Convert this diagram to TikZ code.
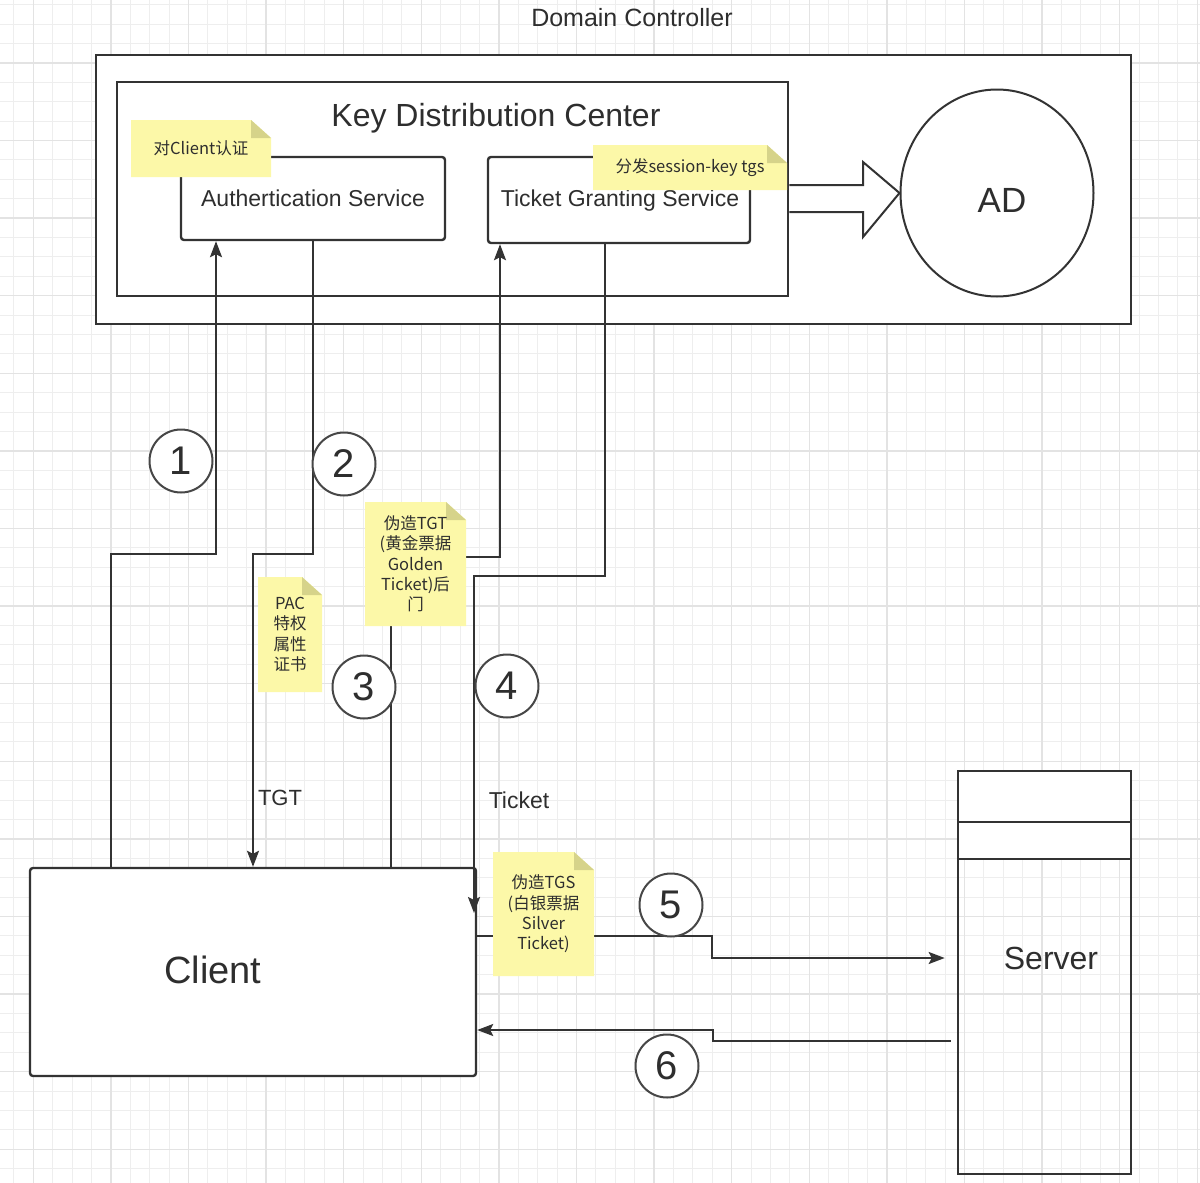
\documentclass[tikz,border=0pt]{standalone}
\usepackage{fontspec}
\setmainfont{Liberation Sans}
\newfontfamily\cjk{Noto Sans CJK SC}
\usetikzlibrary{arrows.meta,shapes.geometric,calc}
\definecolor{ln}{HTML}{333333}
\definecolor{txt}{HTML}{2E2E2E}
\definecolor{notey}{RGB}{252,248,168}
\definecolor{notef}{RGB}{214,211,138}
\definecolor{gmin}{HTML}{EEEEEE}
\definecolor{gmaj}{HTML}{E3E3E3}
\newcommand\fs[1]{\fontsize{#1}{#1}\selectfont}
% name, x1, y1, x2, y2, text
\newcommand\stickynote[6]{%
  \fill[notey] (#2,#3) -- ({#4-20},#3) -- (#4,{#3+18}) -- (#4,#5) -- (#2,#5) -- cycle;
  \fill[notef] ({#4-20},#3) -- ({#4-20},{#3+18}) -- (#4,{#3+18}) -- cycle;
  \node[notetext] (#1) at ({(#2+#4)/2},{(#3+#5)/2}) {#6};
}
\begin{document}
\begin{tikzpicture}[x=1pt,y=-1pt,
  box/.style={draw=ln,line width=2.6pt,fill=white,inner sep=0pt},
  conn/.style={draw=ln,line width=2pt,-{Stealth[length=16pt,width=12pt,inset=3pt]}},
  num/.style={circle,draw=ln!90,line width=2pt,fill=white,minimum size=63pt,inner sep=0pt,text=txt,font=\fs{40}},
  lbl/.style={text=txt,inner sep=0pt,anchor=base},
  notetext/.style={text=txt,align=center,inner sep=0pt,font=\cjk\fontsize{16.5}{20.3}\selectfont}]
\useasboundingbox (0,0) rectangle (1200,1183);
\fill[white] (0,0) rectangle (1200,1183);
% grid
\foreach \i in {0,...,61} \draw[gmin,line width=1pt] ({13.9+19.4*\i},0) -- ({13.9+19.4*\i},1183);
\foreach \i in {0,...,60} \draw[gmin,line width=1pt] (0,{4.7+19.4*\i}) -- (1200,{4.7+19.4*\i});
\foreach \i in {0,...,15} \draw[gmaj,line width=1.4pt] ({33.3+77.6*\i},0) -- ({33.3+77.6*\i},1183);
\foreach \i in {0,...,14} \draw[gmaj,line width=1.4pt] (0,{62.9+77.6*\i}) -- (1200,{62.9+77.6*\i});

% Domain controller
\node[lbl,font=\fs{25}] (dclabel) at (632,26) {Domain Controller};
\node[box,minimum width=1035pt,minimum height=269pt] (dc) at (613.5,189.5) {};
\node[box,minimum width=671pt,minimum height=214pt] (kdc) at (452.5,189) {};
\node[lbl,font=\fs{32}] (kdclabel) at (496,126) {Key Distribution Center};
\node[box,rounded corners=3pt,line width=2.4pt,minimum width=264pt,minimum height=83pt] (as) at (313,198.5) {};
\node[lbl,font=\fs{23}] (aslabel) at (313,206) {Authertication Service};
\node[box,rounded corners=3pt,line width=2.4pt,minimum width=262pt,minimum height=86pt] (tgs) at (619,200) {};
\node[lbl,font=\fs{23}] (tgslabel) at (620,206) {Ticket Granting Service};
\node[ellipse,draw=ln,line width=2pt,fill=white,minimum width=193pt,minimum height=207pt,inner sep=0pt] (ad) at (997,193) {};
\node[lbl,font=\fs{35}] (adlabel) at (1002,212) {AD};
% block arrow KDC -> AD
\draw[ln,line width=2pt,fill=white,line join=miter]
  (kdc.east |- 0,185) -- (863,185) -- (863,162) -- (ad.west) -- (863,237) -- (863,212) -- (kdc.east |- 0,212);

% Client
\node[box,rounded corners=3pt,line width=2.4pt,minimum width=446pt,minimum height=208pt] (client) at (253,972) {};
\node[lbl,font=\fs{38}] (clientlabel) at (213,983) {Client};

% Server
\fill[white] (958,771) rectangle (1131,859);
\node[draw=ln,line width=2.6pt,minimum width=173pt,minimum height=403pt,inner sep=0pt] (server) at (1044.5,972.5) {};
\draw[ln,line width=2.6pt] (958,822) -- (1131,822);
\draw[ln,line width=2.6pt] (958,859) -- (1131,859);
\node[lbl,font=\fs{32}] (serverlabel) at (1051,969) {Server};

% bend points
\coordinate (b1a) at (111,554); \coordinate (b1b) at (216,554);
\coordinate (b2a) at (313,554); \coordinate (b2b) at (253,554);
\coordinate (b3a) at (391,557); \coordinate (b3b) at (500,557);
\coordinate (b4a) at (605,576); \coordinate (b4b) at (474,576); \coordinate (e4) at (474,913);
\coordinate (b5a) at (712,936); \coordinate (b5b) at (712,958);
\coordinate (b6a) at (713,1041); \coordinate (b6b) at (713,1030);

% connectors
\draw[conn] (client.north -| b1a) -- (b1a) -- (b1b) -- (b1b |- as.south);
\draw[conn] (as.south -| b2a) -- (b2a) -- (b2b) -- (b2b |- client.north);
\draw[conn] (client.north -| b3a) -- (b3a) -- (b3b) -- (b3b |- tgs.south);
\draw[conn] (tgs.south -| b4a) -- (b4a) -- (b4b) -- (e4);
\draw[conn,shorten >=12pt] (client.east |- b5a) -- (b5a) -- (b5b) -- (server.west |- b5b);
\draw[conn,shorten <=6pt] (server.west |- b6a) -- (b6a) -- (b6b) -- (client.east |- b6b);

\node[lbl,font=\fs{22}] (tgtlabel) at (280,805) {TGT};
\node[lbl,font=\fs{23}] (ticketlabel) at (519,808) {Ticket};

% numbers
\node[num] (n1) at (181,461) {1};
\node[num] (n2) at (344,464) {2};
\node[num] (n3) at (364,687) {3};
\node[num] (n4) at (507,686) {4};
\node[num] (n5) at (671,905) {5};
\node[num] (n6) at (667,1066) {6};

% notes
\stickynote{note1}{131}{120}{271}{177}{对Client认证}
\stickynote{note2}{593}{145}{787}{190}{分发session-key tgs}
\stickynote{note3}{258}{577}{322}{692}{PAC\\特权\\属性\\证书}
\stickynote{note4}{365}{502}{466}{626}{伪造TGT\\(黄金票据\\Golden\\Ticket)后\\门}
\stickynote{note5}{493}{852}{594}{976}{伪造TGS\\(白银票据\\Silver\\Ticket)}
\end{tikzpicture}
\end{document}
